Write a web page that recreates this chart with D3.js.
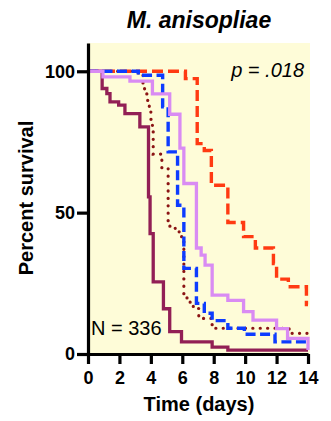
<!DOCTYPE html>
<html>
<head>
<meta charset="utf-8">
<script src="https://cdn.jsdelivr.net/npm/d3@7"></script>
<style>
  body { margin: 0; background: #fff; }
  text { font-family: "Liberation Sans", Arial, sans-serif; }
</style>
</head>
<body>
<svg id="chart" width="331" height="421"></svg>
<script>
const xTicks = [0, 2, 4, 6, 8, 10, 12, 14];
const yTicks = [0, 50, 100];

// Kaplan-Meier steps: day of drop, survival after the drop
const redDays = [0, 6.2, 6.95, 7.4, 7.85, 8.9, 9.9, 10.65, 11.8, 12.0, 12.75, 13.9, 14];
const redSurv = [100, 97.4, 74.4, 72, 59.7, 46.5, 41.5, 37.5, 32, 26.5, 23.8, 17.5, 17.5];

const maroonDays = [0, 0.9, 1.2, 1.4, 1.95, 2.35, 3.3, 3.85, 3.95, 4.15, 4.8, 5.2, 5.95, 7.9, 8.9, 14];
const maroonSurv = [100, 93.9, 92.1, 89.2, 88, 85, 80.3, 55.6, 42.6, 25.5, 16, 7.9, 4.3, 2.4, 1.4, 1.4];

const dottedDays = [0, 3.2, 3.5, 3.6, 3.8, 3.9, 4.0, 4.1, 4.15, 4.7, 5.1, 5.55, 5.8, 6.0, 6.1, 6.3, 6.5, 6.7, 7.05, 7.9, 12.8, 14];
const dottedSurv = [100, 98.6, 95, 92, 89, 86, 83, 79, 70.7, 65.6, 45.2, 43.8, 41.5, 39.7, 20.8, 19.7, 17.9, 16.1, 12.6, 9.1, 7.3, 7.3];

const blueDays = [0, 3.2, 4.75, 5.1, 5.7, 6.1, 6.9, 7.4, 7.9, 8.9, 9.95, 11.9, 14];
const blueSurv = [100, 98.6, 87.4, 71.5, 52.6, 30.3, 17.9, 14.4, 11.8, 9.1, 7.0, 4.3, 4.3];

const purpleDays = [0, 0.95, 2.67, 4.1, 5.2, 5.85, 6.1, 6.9, 7.2, 7.45, 7.9, 8.9, 9.9, 10.5, 12.0, 12.7, 14];
const purpleSurv = [100, 98, 96.5, 92, 84.8, 72.8, 60.3, 37.5, 35, 31.4, 20.8, 19, 15, 12, 9, 5.5, 1.4];

const svg = d3.select("#chart");

const x = d3.scaleLinear().domain([0, 14]).range([88, 308]);
const y = d3.scaleLinear().domain([0, 110]).range([354, 43]);

// plot background
svg.append("rect")
  .attr("x", x(0)).attr("y", y(110))
  .attr("width", x(14) - x(0) + 2).attr("height", y(0) - y(110))
  .attr("fill", "#fefcd8");

const line = d3.line()
  .x(d => x(d[0]))
  .y(d => y(d[1]))
  .curve(d3.curveStepAfter);

function pts(days, surv) { return days.map((d, i) => [d, surv[i]]); }

const series = [
  { data: pts(redDays, redSurv), color: "#ff3a12", dash: "11 5", cap: "butt", width: 3.4 },
  { data: pts(maroonDays, maroonSurv), color: "#921f55", dash: null, cap: "butt", width: 3.3 },
  { data: pts(dottedDays, dottedSurv), color: "#8b1414", dash: "0.1 7.3", cap: "round", width: 3.2 },
  { data: pts(blueDays, blueSurv), color: "#0d3cff", dash: "10 4.5", cap: "butt", width: 3.4 },
  { data: pts(purpleDays, purpleSurv), color: "#d98bf3", dash: null, cap: "butt", width: 3.3 }
];

svg.append("g").selectAll("path")
  .data(series)
  .enter().append("path")
  .attr("d", d => line(d.data))
  .attr("fill", "none")
  .attr("stroke", d => d.color)
  .attr("stroke-width", d => d.width)
  .attr("stroke-dasharray", d => d.dash)
  .attr("stroke-linecap", d => d.cap);

// axes
const yAxis = svg.append("g")
  .attr("transform", "translate(" + x(0) + ",0)")
  .call(d3.axisLeft(y).tickValues(yTicks).tickSize(11).tickSizeOuter(0).tickPadding(2));

const xAxis = svg.append("g")
  .attr("transform", "translate(0," + y(0) + ")")
  .call(d3.axisBottom(x).tickValues(xTicks).tickSize(10).tickSizeOuter(0).tickPadding(7));

[yAxis, xAxis].forEach(a => {
  a.select(".domain").attr("stroke", "#000").attr("stroke-width", 3.2);
  a.selectAll(".tick line").attr("stroke", "#000").attr("stroke-width", 3.2);
  a.selectAll(".tick text")
    .attr("fill", "#000")
    .style("font-family", "'Liberation Sans', Arial, sans-serif")
    .style("font-size", "18px")
    .style("font-weight", "bold");
});

// titles and notes
svg.append("text")
  .attr("x", 199).attr("y", 28)
  .attr("text-anchor", "middle")
  .style("font-size", "23px").style("font-weight", "bold").style("font-style", "italic")
  .text("M. anisopliae");

svg.append("text")
  .attr("x", 304).attr("y", 77)
  .attr("text-anchor", "end")
  .style("font-size", "20px").style("font-style", "italic")
  .text("p = .018");

svg.append("text")
  .attr("x", 91).attr("y", 335)
  .style("font-size", "20px")
  .text("N = 336");

svg.append("text")
  .attr("transform", "translate(33,198) rotate(-90)")
  .attr("text-anchor", "middle")
  .style("font-size", "20px").style("font-weight", "bold")
  .text("Percent survival");

svg.append("text")
  .attr("x", 199).attr("y", 411)
  .attr("text-anchor", "middle")
  .style("font-size", "20px").style("font-weight", "bold")
  .text("Time (days)");
</script>
</body>
</html>
